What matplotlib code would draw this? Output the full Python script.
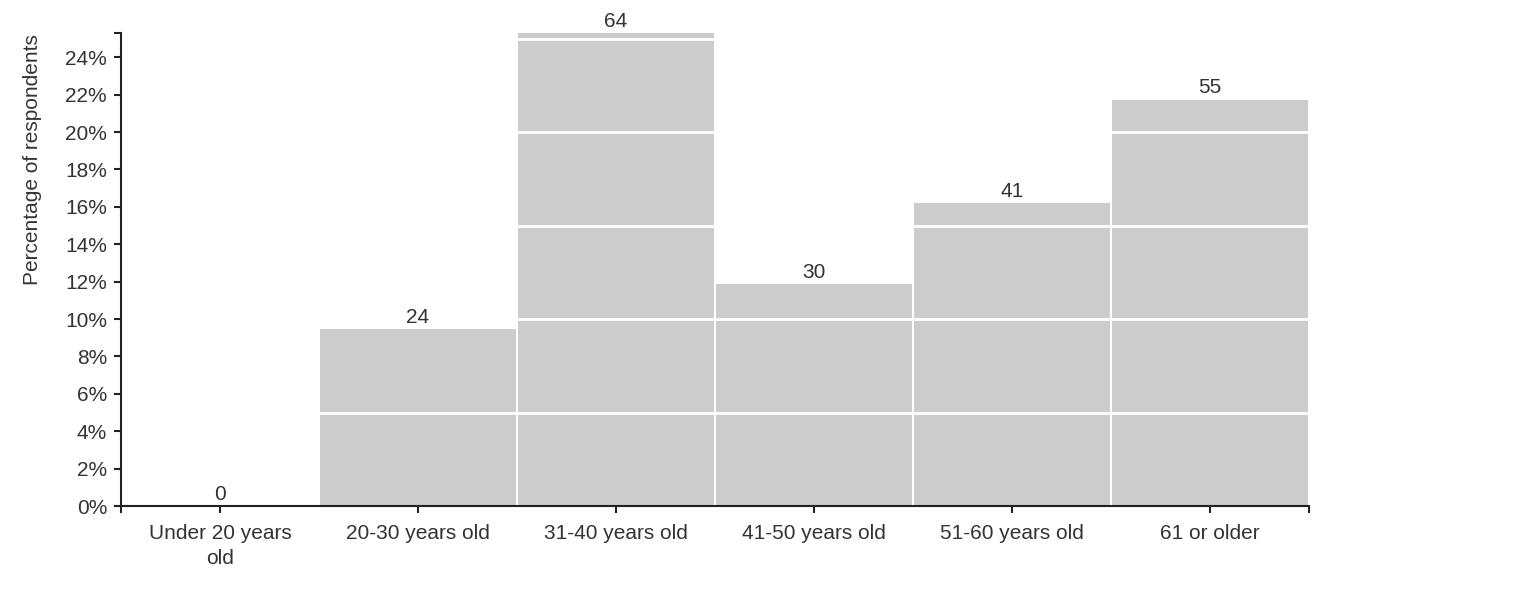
import numpy as np
import matplotlib
matplotlib.use("Agg")
from matplotlib import pyplot as plt
from matplotlib.ticker import FuncFormatter

plt.rcParams['font.family'] = ['Liberation Sans', 'DejaVu Sans']

categories = ["Under 20 years\nold", "20-30 years old", "31-40 years old",
              "41-50 years old", "51-60 years old", "61 or older"]
counts = [0, 24, 64, 30, 41, 55]
total_respondents = 253

pct = [c / total_respondents * 100 for c in counts]
ymax = max(pct)
x = np.arange(len(categories))

fig = plt.figure(figsize=(15.28, 6.16), dpi=100)
ax = fig.add_axes([121/1528, 1 - 506/616, (1309-121)/1528, (506-33)/616])

ax.bar(x, pct, width=0.99, color="#cccccc", zorder=1)
# white grid lines over the bars
for g in [5, 10, 15, 20, 25]:
    ax.axhline(g, color="white", lw=2, zorder=2)

fs = 15
for xi, p, c in zip(x, pct, counts):
    ax.annotate(str(c), (xi, p), xytext=(0, 1.5), textcoords="offset points",
                ha="center", va="bottom", fontsize=fs, color="#333333")

ax.set_xlim(-0.5, len(categories) - 0.5)
ax.set_ylim(0, ymax)
ax.set_yticks(np.arange(0, 25, 2))
ax.yaxis.set_major_formatter(FuncFormatter(lambda v, _: f"{v:.0f}%"))
ax.set_yticks([ymax], minor=True)
ax.set_xticks(x)
ax.set_xticklabels(categories, linespacing=1.4)
ax.set_xticks([-0.5, len(categories) - 0.5], minor=True)

for s in ["top", "right"]:
    ax.spines[s].set_visible(False)
for s in ["left", "bottom"]:
    ax.spines[s].set_linewidth(1.5)
    ax.spines[s].set_color("#222222")

ax.tick_params(which="both", length=5, width=1.5, color="#222222",
               labelsize=fs, labelcolor="#333333")
ax.tick_params(axis="x", pad=8)
ax.tick_params(axis="y", pad=5)

fig.text(33/1528, 1 - 34/616, "Percentage of respondents", rotation=90,
         ha="center", va="top", fontsize=fs, color="#333333")

fig.savefig("out.png", dpi=100)
